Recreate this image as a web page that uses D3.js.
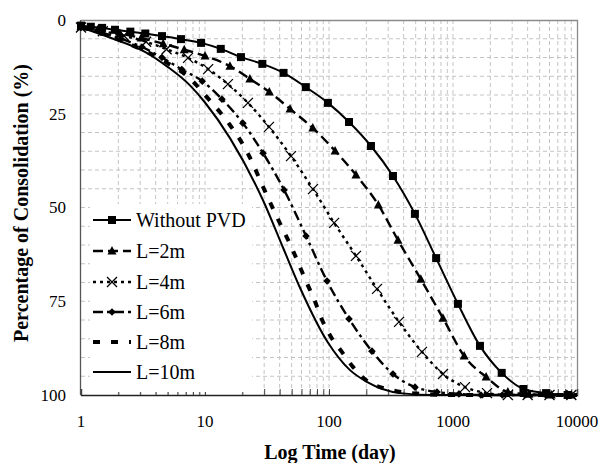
<!DOCTYPE html>
<html>
<head>
<meta charset="utf-8">
<script src="https://cdn.jsdelivr.net/npm/d3@7"></script>
<style>
  html, body { margin: 0; padding: 0; background: #fff; }
  svg { display: block; }
  text { font-family: "Liberation Serif", "Times New Roman", "DejaVu Serif", serif; fill: #000; }
</style>
</head>
<body>
<svg id="chart" width="599" height="463"></svg>
<script>
// ---------- data ----------
const seriesNames = ["Without PVD", "L=2m", "L=4m", "L=6m", "L=8m", "L=10m"];

const tWithout = [1, 1.2, 1.48, 1.88, 2.5, 3.3, 4.5, 6.4, 9.3, 13.4, 19.5, 29, 43, 65, 98, 145, 218, 328, 493, 731, 1096, 1650, 2470, 3700, 5630, 8400];
const uWithout = [1.5, 1.8, 2.1, 2.6, 3.1, 3.6, 4.3, 5.1, 6.1, 7.7, 9.9, 11.7, 14.1, 17.9, 22.1, 27.2, 33.6, 41.6, 51.7, 63.5, 75.7, 86.9, 94.1, 98.4, 99.5, 100];

const tL2 = [1, 1.37, 2.06, 3.06, 4.6, 6.8, 10, 15.9, 23, 33, 48.5, 74, 112, 165, 250, 360, 550, 830, 1230, 1850, 2770, 4100, 6200, 9000];
const uL2 = [1.8, 2.5, 3.6, 4.8, 6.3, 7.9, 9.6, 12.3, 15.7, 19.2, 23.7, 28.8, 34.9, 41.3, 49.3, 58.7, 69.1, 79.5, 89.6, 95.2, 99.2, 99.8, 100, 100];

const tL4 = [1, 1.5, 2.22, 3.35, 4.9, 7.3, 10.6, 15.3, 22.2, 32.8, 49.4, 74.3, 110, 165, 244, 367, 562, 830, 1250, 1880, 2770, 4000, 6000, 9000];
const uL4 = [2, 3.0, 4.2, 5.8, 7.8, 10.1, 13.1, 17.1, 22.1, 28.5, 36.3, 45.1, 54.1, 62.9, 71.7, 80.5, 88.5, 94.4, 97.9, 99.5, 100, 100, 100, 100];

const tL6 = [1, 1.45, 2.1, 3.1, 4.5, 6.5, 9.5, 13.7, 20.2, 29.4, 43.4, 65.3, 96.4, 145, 222, 328, 494, 743, 1117, 1680, 2500, 3800, 5600, 8400];
const uL6 = [2, 3.3, 5.0, 7.2, 10.0, 13.2, 16.3, 21.1, 27.5, 35.5, 45.3, 57.6, 69.6, 79.7, 88.3, 94.4, 97.9, 99.2, 99.7, 100, 100, 100, 100, 100];

const tL8 = [1, 1.5, 2.2, 3.3, 5, 7.8, 10, 15.9, 19.9, 24, 27.8, 32.3, 38, 42.7, 50.5, 56, 66, 77, 88, 105, 127, 156, 202, 328, 500, 1000, 10000];
const uL8 = [2, 3.6, 5.8, 8.3, 11.5, 16, 20, 28, 32.8, 37.9, 42.7, 47.5, 52.5, 56, 61, 64.5, 70, 75, 80, 84.8, 88.5, 92.5, 96.2, 98.8, 99.6, 100, 100];

const tL10 = [1, 1.75, 3.28, 5, 7.6, 10, 15.9, 29.3, 42.7, 58, 98, 147, 202, 375, 690, 10000];
const uL10 = [2, 4.8, 8.5, 12.5, 17.5, 22, 31.5, 48, 60.8, 71.2, 86, 93.3, 96.5, 99.5, 100, 100];

const xTickValues = [1, 10, 100, 1000, 10000];
const xTickLabels = ["1", "10", "100", "1000", "10000"];
const yTickValues = [0, 25, 50, 75, 100];
const yTickLabels = ["0", "25", "50", "75", "100"];
const xTitle = "Log Time (day)";
const yTitle = "Percentage of Consolidation (%)";

// ---------- setup ----------
const svg = d3.select("#chart");
const pLeft = 81, pRight = 577, pTop = 20, pBottom = 395;

const x = d3.scaleLog().domain([1, 10000]).range([pLeft, pRight]);
const y = d3.scaleLinear().domain([0, 100]).range([pTop, pBottom]);

const gridColor = "#c4c4c4";

// horizontal grid every 5
const hGrid = d3.range(5, 100, 5);
svg.append("g").selectAll("line").data(hGrid).join("line")
  .attr("x1", pLeft).attr("x2", pRight)
  .attr("y1", d => y(d)).attr("y2", d => y(d))
  .attr("stroke", gridColor).attr("stroke-width", 1).attr("stroke-dasharray", "4,3");

// vertical grid at log minor positions
const vGrid = [];
for (let p = 0; p < 4; p++) for (let m = 1; m <= 9; m++) {
  const v = m * Math.pow(10, p);
  if (v > 1 && v < 10000) vGrid.push(v);
}
svg.append("g").selectAll("line").data(vGrid).join("line")
  .attr("x1", d => x(d)).attr("x2", d => x(d))
  .attr("y1", pTop).attr("y2", pBottom)
  .attr("stroke", gridColor).attr("stroke-width", 1).attr("stroke-dasharray", "4,3");

// border top/right
svg.append("path")
  .attr("d", `M${pLeft},${pTop + 0.5}H${pRight + 0.5}V${pBottom}`)
  .attr("fill", "none").attr("stroke", "#8a8a8a").attr("stroke-width", 1.3);

// left axis
svg.append("line").attr("x1", pLeft - 0.5).attr("x2", pLeft - 0.5).attr("y1", pTop).attr("y2", pBottom)
  .attr("stroke", "#555").attr("stroke-width", 1.3);

// bottom axis via d3 axis (ticks inside)
const xAxis = d3.axisBottom(x).tickValues(vGrid.concat(xTickValues)).tickSize(-6).tickFormat("");
const gx = svg.append("g").attr("transform", `translate(0,${pBottom})`).call(xAxis);
gx.select(".domain").attr("stroke", "#222").attr("stroke-width", 1.4);
gx.selectAll(".tick line").attr("stroke", "#444").attr("stroke-width", 1);

// x tick labels
svg.append("g").selectAll("text").data(xTickValues).join("text")
  .attr("x", d => x(d)).attr("y", 427)
  .attr("text-anchor", "middle").attr("font-size", 17)
  .text((d, i) => xTickLabels[i]);

// y tick labels
svg.append("g").selectAll("text").data(yTickValues).join("text")
  .attr("x", 66).attr("y", d => y(d)).attr("dy", "0.35em")
  .attr("text-anchor", "end").attr("font-size", 17)
  .text((d, i) => yTickLabels[i]);

// titles
svg.append("text").attr("x", 330).attr("y", 459).attr("text-anchor", "middle")
  .attr("font-size", 20).attr("font-weight", "bold").text(xTitle);
svg.append("text").attr("transform", "translate(28,203) rotate(-90)").attr("text-anchor", "middle")
  .attr("font-size", 20).attr("font-weight", "bold").text(yTitle);

// ---------- series ----------
const styles = [
  { t: tWithout, u: uWithout, dash: null, width: 2, marker: "square" },
  { t: tL2, u: uL2, dash: "10,5", width: 2.4, marker: "triangle" },
  { t: tL4, u: uL4, dash: "3,4", width: 2.4, marker: "x" },
  { t: tL6, u: uL6, dash: "10,4,3,4", width: 2.4, marker: "diamond" },
  { t: tL8, u: uL8, dash: "7,11", width: 4, marker: null },
  { t: tL10, u: uL10, dash: null, width: 2, marker: null }
];

const line = d3.line().x(d => x(d[0])).y(d => y(d[1])).curve(d3.curveMonotoneX);

function markerPath(kind) {
  if (kind === "square") return "M-4,-4H4V4H-4Z";
  if (kind === "triangle") return "M0,-5L4.5,3.5H-4.5Z";
  if (kind === "diamond") return "M0,-3.8L3.8,0L0,3.8L-3.8,0Z";
  if (kind === "x") return "M-5,-5L5,5M-5,5L5,-5";
  return "";
}
function drawMarker(g, kind, cx, cy) {
  const p = g.append("path").attr("d", markerPath(kind)).attr("transform", `translate(${cx},${cy})`);
  if (kind === "x") p.attr("fill", "none").attr("stroke", "#000").attr("stroke-width", 1.3);
  else p.attr("fill", "#000").attr("stroke", "none");
}

const plotG = svg.append("g");
styles.forEach(s => {
  const pts = s.t.map((t, i) => [t, s.u[i]]);
  const path = plotG.append("path").datum(pts).attr("d", line)
    .attr("fill", "none").attr("stroke", "#000").attr("stroke-width", s.width);
  if (s.dash) path.attr("stroke-dasharray", s.dash);
  if (s.marker) {
    const mg = plotG.append("g");
    pts.forEach(p => drawMarker(mg, s.marker, x(p[0]), y(p[1])));
  }
});

// ---------- legend ----------
const lg = svg.append("g");
lg.append("rect").attr("x", 90).attr("y", 204).attr("width", 162).attr("height", 188).attr("fill", "#fff");
const legendY = [220, 251, 282, 312, 342, 372];
styles.forEach((s, i) => {
  const ly = legendY[i];
  const l = lg.append("line").attr("x1", 93).attr("x2", 131).attr("y1", ly).attr("y2", ly)
    .attr("stroke", "#000").attr("stroke-width", s.width);
  if (s.dash) l.attr("stroke-dasharray", s.dash);
  if (s.marker) drawMarker(lg, s.marker, 112, ly);
  lg.append("text").attr("x", 136).attr("y", ly).attr("dy", "0.35em")
    .attr("font-size", 20).text(seriesNames[i]);
});
</script>
</body>
</html>
